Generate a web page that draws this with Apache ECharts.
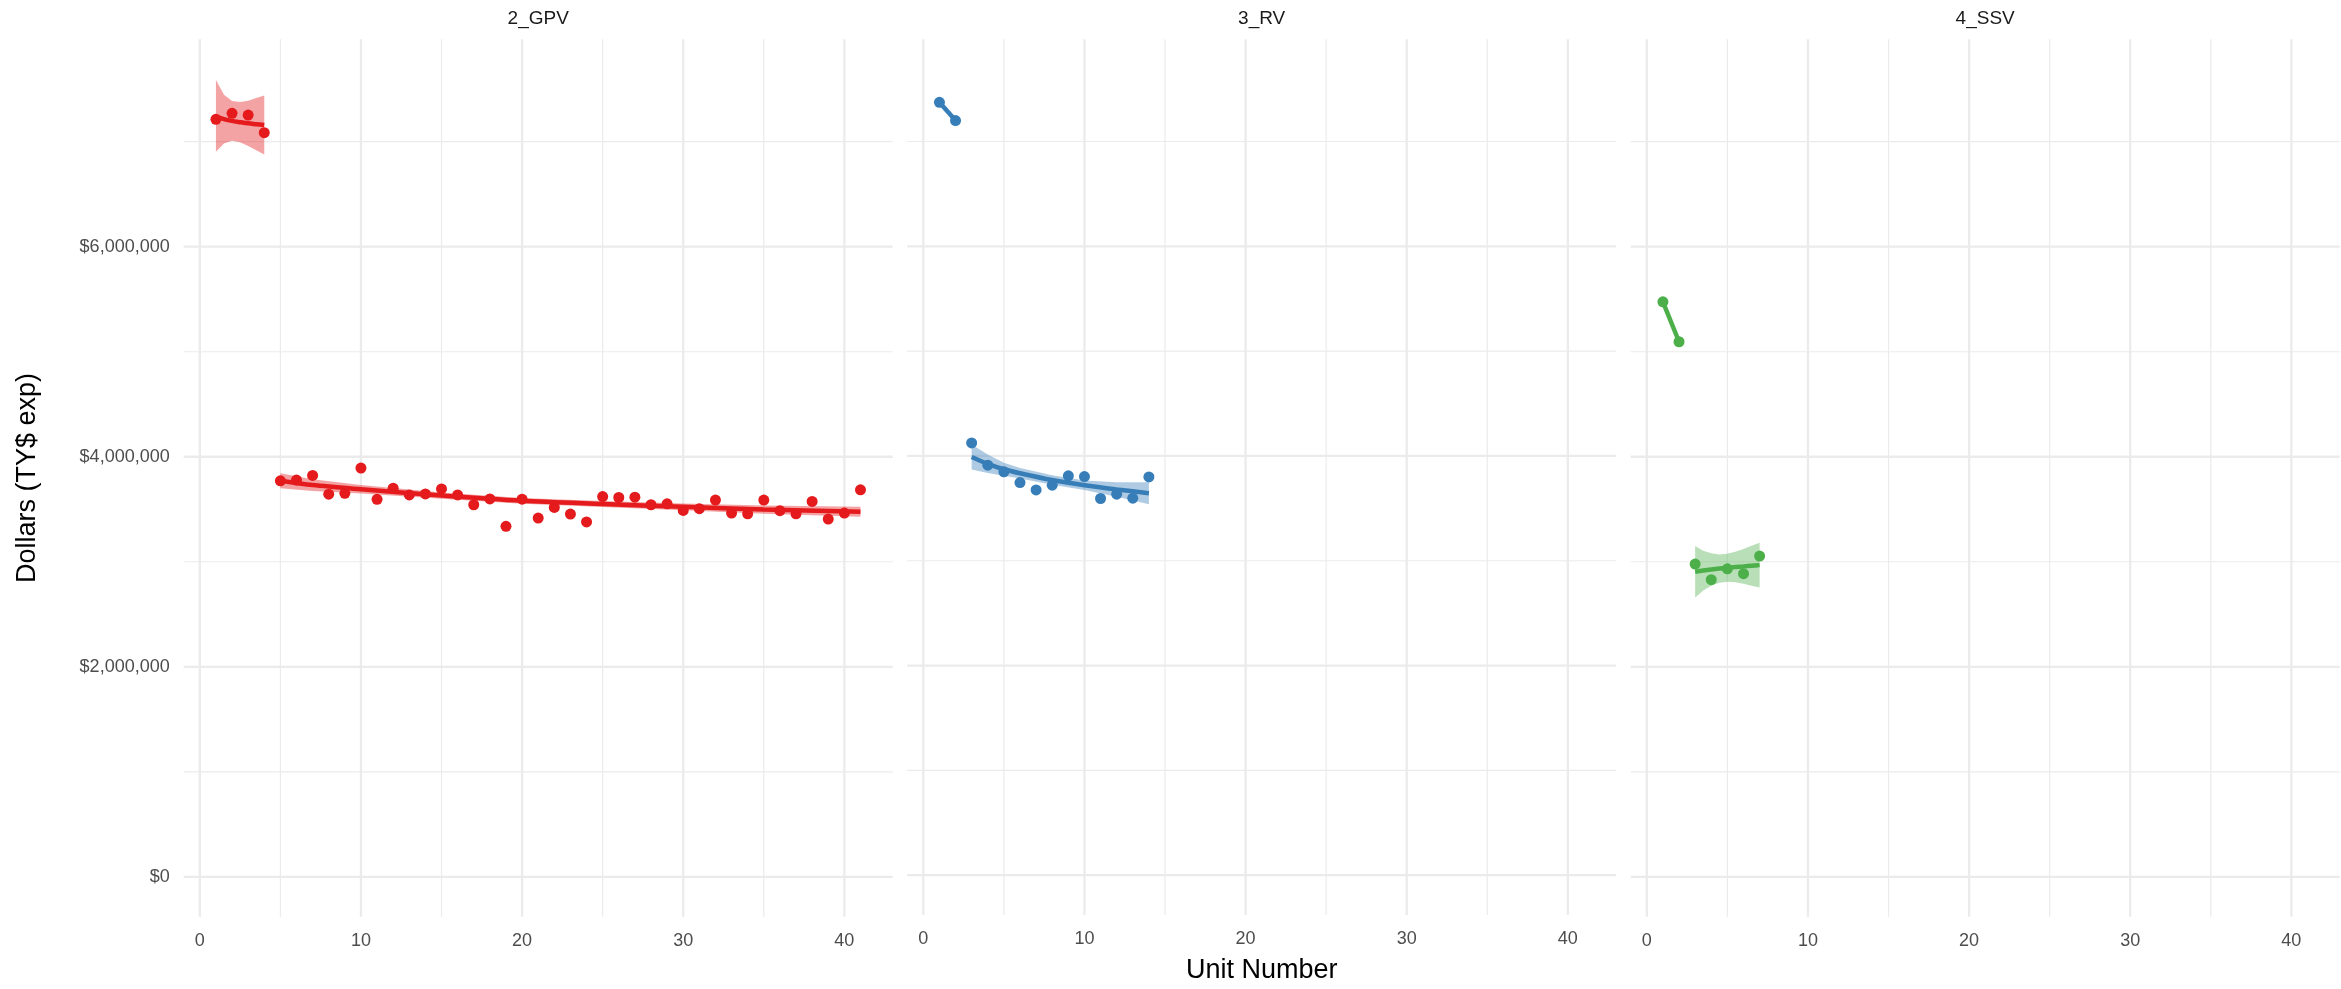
<!DOCTYPE html>
<html><head><meta charset="utf-8">
<script src="https://cdn.jsdelivr.net/npm/echarts@6/dist/echarts.min.js"></script>
<style>html,body{margin:0;padding:0;background:#fff}#c{width:2341px;height:989px}</style>
</head><body><div id="c"></div>
<script>
// ---------- data ----------
const panelNames = ['2_GPV', '3_RV', '4_SSV'];
const xTickValues = [0, 10, 20, 30, 40];
const xMinorValues = [5, 15, 25, 35];
const yTickValues = [0, 2000000, 4000000, 6000000];
const yMinorValues = [1000000, 3000000, 5000000, 7000000];

// 2_GPV observed
const gpvUnitsA = [1, 2, 3, 4];
const gpvCostA = [7213000, 7270000, 7254000, 7086000];
const gpvUnitsB = [5,6,7,8,9,10,11,12,13,14,15,16,17,18,19,20,21,22,23,24,25,26,27,28,29,30,31,32,33,34,35,36,37,38,39,40,41];
const gpvCostB = [3771000,3778000,3822000,3643000,3652000,3892000,3595000,3700000,3636000,3646000,3693000,3636000,3543000,3598000,3338000,3596000,3416000,3517000,3454000,3379000,3621000,3612000,3615000,3543000,3552000,3489000,3505000,3587000,3464000,3457000,3587000,3486000,3457000,3574000,3407000,3464000,3685000];
// 3_RV observed
const rvUnitsA = [1, 2];
const rvCostA = [7374000, 7200000];
const rvUnitsB = [3,4,5,6,7,8,9,10,11,12,13,14];
const rvCostB = [4124000,3912000,3848000,3746000,3676000,3721000,3810000,3803000,3594000,3635000,3597000,3800000];
// 4_SSV observed
const ssvUnitsA = [1, 2];
const ssvCostA = [5475000, 5095000];
const ssvUnitsB = [3,4,5,6,7];
const ssvCostB = [2978000,2829000,2933000,2886000,3054000];

// fitted curves and confidence bands
const gpvFitAx = [1, 1.5, 2, 2.5, 3, 3.5, 4];
const gpvFitA = [7238000,7215000,7198000,7186000,7175000,7167000,7159000];
const gpvLoA = [6905000,6982000,7008000,6994000,6959000,6918000,6877000];
const gpvHiA = [7587000,7448000,7388000,7378000,7391000,7416000,7441000];

const gpvFitBx = [5, 7, 10, 15, 20, 25, 30, 35, 41];
const gpvFitB = [3771000,3730000,3690000,3630000,3580000,3550000,3523000,3497000,3476000];
const gpvLoB = [3699000,3675000,3650000,3600000,3553000,3522000,3491000,3458000,3428000];
const gpvHiB = [3843000,3785000,3730000,3660000,3607000,3578000,3555000,3536000,3524000];

const rvFitBx = [3, 4, 5, 6, 8, 10, 12, 14];
const rvFitB = [3990000,3925000,3873000,3835000,3770000,3720000,3680000,3645000];
const rvLoB = [3870000,3837000,3811000,3785000,3724000,3675000,3610000,3540000];
const rvHiB = [4110000,4013000,3935000,3885000,3816000,3765000,3750000,3750000];

const ssvFitBx = [3, 3.5, 4, 4.5, 5, 5.5, 6, 6.5, 7];
const ssvFitB = [2905000,2916000,2926000,2935000,2943000,2950000,2956000,2962000,2968000];
const ssvLoB = [2660000,2726000,2771000,2800000,2809000,2804000,2790000,2772000,2754000];
const ssvHiB = [3150000,3106000,3081000,3070000,3077000,3096000,3122000,3152000,3182000];

// ---------- layout / style ----------
const COLORS = ['#E41A1C', '#377EB8', '#4DAF4A'];
const BANDS = ['rgba(228,26,28,0.4)', 'rgba(55,126,184,0.4)', 'rgba(77,175,74,0.4)'];
const FONT = '"Liberation Sans", Arial, sans-serif';
const GRID_LEFT = [183.7, 907.2, 1630.7];
const GRID_TOP = 39.3, GRID_W = 709, GRID_H = 877.4;
const X_MIN = -1, X_MAX = 43, Y_MIN = -379800, Y_MAX = 7975000;

const zip = (xs, ys) => xs.map((x, i) => [x, ys[i]]);

const grids = [], xAxes = [], yAxes = [], series = [];

function vLines(i, values, width) {
  return {
    type: 'custom', xAxisIndex: i, yAxisIndex: i, z: 0, silent: true, animation: false,
    data: values.map(v => [v, 0]),
    renderItem: (params, api) => {
      const cs = params.coordSys;
      const x = api.coord([api.value(0), 0])[0];
      return { type: 'line', shape: { x1: x, y1: cs.y, x2: x, y2: cs.y + cs.height },
               style: { stroke: '#EBEBEB', lineWidth: width } };
    }
  };
}
function hLines(i, values, width) {
  return {
    type: 'custom', xAxisIndex: i, yAxisIndex: i, z: 0, silent: true, animation: false,
    data: values.map(v => [0, v]),
    renderItem: (params, api) => {
      const cs = params.coordSys;
      const y = api.coord([0, api.value(1)])[1];
      return { type: 'line', shape: { x1: cs.x, y1: y, x2: cs.x + cs.width, y2: y },
               style: { stroke: '#EBEBEB', lineWidth: width } };
    }
  };
}
function band(i, xs, lo, hi) {
  return {
    type: 'custom', xAxisIndex: i, yAxisIndex: i, z: 1, silent: true, animation: false,
    data: [[xs[0], lo[0]]],
    renderItem: (params, api) => {
      const pts = [];
      for (let k = 0; k < xs.length; k++) pts.push(api.coord([xs[k], hi[k]]));
      for (let k = xs.length - 1; k >= 0; k--) pts.push(api.coord([xs[k], lo[k]]));
      return { type: 'polygon', shape: { points: pts }, style: { fill: BANDS[i] } };
    }
  };
}
function points(i, xs, ys) {
  return { type: 'scatter', xAxisIndex: i, yAxisIndex: i, z: 2, symbolSize: 11,
           itemStyle: { color: COLORS[i], opacity: 1 }, data: zip(xs, ys), animation: false };
}
function fitLine(i, xs, ys) {
  return { type: 'line', xAxisIndex: i, yAxisIndex: i, z: 3, showSymbol: false, smooth: 0.3,
           lineStyle: { color: COLORS[i], width: 4.5 }, data: zip(xs, ys), animation: false };
}

for (let i = 0; i < 3; i++) {
  grids.push({ left: GRID_LEFT[i], top: GRID_TOP, width: GRID_W, height: GRID_H, containLabel: false });
  xAxes.push({
    type: 'value', gridIndex: i, min: X_MIN, max: X_MAX,
    axisLine: { show: false }, axisTick: { show: false }, splitLine: { show: false },
    axisLabel: { customValues: xTickValues, color: '#4D4D4D', fontSize: 18, fontFamily: FONT, margin: 15 },
    name: i === 1 ? 'Unit Number' : '', nameLocation: 'middle', nameGap: 42,
    nameTextStyle: { color: '#000', fontSize: 27, fontFamily: FONT }
  });
  yAxes.push({
    type: 'value', gridIndex: i, min: Y_MIN, max: Y_MAX,
    axisLine: { show: false }, axisTick: { show: false }, splitLine: { show: false },
    axisLabel: { show: i === 0, customValues: yTickValues, color: '#4D4D4D', fontSize: 18, fontFamily: FONT, margin: 14,
                 formatter: v => '$' + Math.round(v).toLocaleString('en-US') },
    name: i === 0 ? 'Dollars (TY$ exp)' : '', nameLocation: 'middle', nameGap: 143, nameRotate: 90,
    nameTextStyle: { color: '#000', fontSize: 27, fontFamily: FONT }
  });
  series.push(vLines(i, xMinorValues, 1.2), hLines(i, yMinorValues, 1.2),
              vLines(i, xTickValues, 2.3), hLines(i, yTickValues, 2.3));
}

// panel 1: GPV
series.push(band(0, gpvFitAx, gpvLoA, gpvHiA), band(0, gpvFitBx, gpvLoB, gpvHiB),
            points(0, gpvUnitsA, gpvCostA), points(0, gpvUnitsB, gpvCostB),
            fitLine(0, gpvFitAx, gpvFitA), fitLine(0, gpvFitBx, gpvFitB));
// panel 2: RV
series.push(band(1, rvFitBx, rvLoB, rvHiB),
            points(1, rvUnitsA, rvCostA), points(1, rvUnitsB, rvCostB),
            fitLine(1, rvUnitsA, rvCostA), fitLine(1, rvFitBx, rvFitB));
// panel 3: SSV
series.push(band(2, ssvFitBx, ssvLoB, ssvHiB),
            points(2, ssvUnitsA, ssvCostA), points(2, ssvUnitsB, ssvCostB),
            fitLine(2, ssvUnitsA, ssvCostA), fitLine(2, ssvFitBx, ssvFitB));

const graphics = panelNames.map((name, i) => ({
  type: 'text', x: GRID_LEFT[i] + GRID_W / 2, y: 19,
  style: { text: name, textAlign: 'center', textVerticalAlign: 'middle', fontSize: 19, fontFamily: FONT, fill: '#1A1A1A' }
}));

const chart = echarts.init(document.getElementById('c'), null, { renderer: 'canvas' });
chart.setOption({
  animation: false,
  backgroundColor: '#ffffff',
  grid: grids, xAxis: xAxes, yAxis: yAxes, series: series, graphic: graphics
});
</script>
</body></html>
